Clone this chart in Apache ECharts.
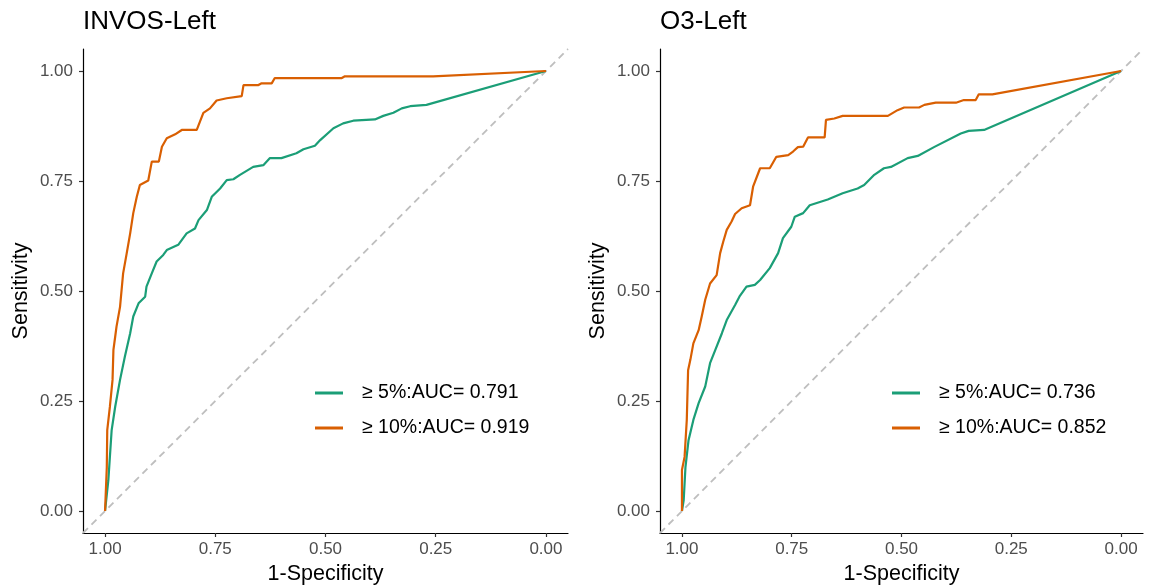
<!DOCTYPE html>
<html>
  <head>
    <meta charset="utf-8" />
    <title>ROC curves</title>
    <script src="https://cdn.jsdelivr.net/npm/echarts@6/dist/echarts.min.js"></script>
    <style>
      body {
        margin: 0;
        background: #fff;
      }
      #main {
        width: 1152px;
        height: 585px;
      }
    </style>
  </head>
  <body>
    <div id="main"></div>
    <script type="text/javascript">
      // [specificity, sensitivity] points
      var invos5 = [
        [1, 0], [0.9925, 0.07], [0.985, 0.184], [0.977, 0.237], [0.966, 0.298],
        [0.955, 0.351], [0.943, 0.404], [0.936, 0.442], [0.924, 0.472], [0.909, 0.487],
        [0.906, 0.51], [0.894, 0.54], [0.883, 0.567], [0.868, 0.582], [0.86, 0.593],
        [0.834, 0.605], [0.815, 0.631], [0.796, 0.642], [0.788, 0.661], [0.769, 0.684],
        [0.758, 0.714], [0.739, 0.733], [0.724, 0.752], [0.709, 0.754], [0.694, 0.764],
        [0.664, 0.782], [0.641, 0.786], [0.626, 0.802], [0.6, 0.802], [0.566, 0.813],
        [0.55, 0.822], [0.524, 0.83], [0.512, 0.843], [0.482, 0.87], [0.46, 0.881],
        [0.437, 0.887], [0.388, 0.89], [0.369, 0.898], [0.346, 0.905], [0.327, 0.915],
        [0.308, 0.92], [0.271, 0.923], [0, 1]
      ];
      var invos10 = [
        [1, 0], [0.996, 0.1], [0.995, 0.184], [0.989, 0.237], [0.983, 0.298],
        [0.981, 0.366], [0.977, 0.396], [0.974, 0.419], [0.966, 0.464], [0.959, 0.54],
        [0.951, 0.585], [0.943, 0.631], [0.936, 0.677], [0.928, 0.714], [0.921, 0.741],
        [0.902, 0.751], [0.894, 0.794], [0.878, 0.794], [0.871, 0.828], [0.86, 0.847],
        [0.841, 0.856], [0.826, 0.866], [0.792, 0.866], [0.777, 0.905], [0.762, 0.915],
        [0.747, 0.933], [0.724, 0.938], [0.69, 0.943], [0.686, 0.968], [0.652, 0.968],
        [0.645, 0.972], [0.622, 0.972], [0.615, 0.984], [0.463, 0.984], [0.456, 0.988],
        [0.256, 0.988], [0, 1]
      ];
      var o3_5 = [
        [1, 0], [0.996, 0.025], [0.992, 0.1], [0.985, 0.161], [0.974, 0.207],
        [0.962, 0.245], [0.947, 0.283], [0.936, 0.336], [0.924, 0.366], [0.909, 0.404],
        [0.898, 0.434], [0.879, 0.468], [0.868, 0.489], [0.853, 0.51], [0.834, 0.514],
        [0.822, 0.525], [0.8, 0.552], [0.781, 0.586], [0.77, 0.62], [0.751, 0.646],
        [0.743, 0.669], [0.724, 0.677], [0.709, 0.695], [0.668, 0.708], [0.634, 0.722],
        [0.6, 0.733], [0.585, 0.741], [0.562, 0.764], [0.54, 0.779], [0.524, 0.782],
        [0.486, 0.802], [0.463, 0.807], [0.426, 0.827], [0.365, 0.858], [0.347, 0.864],
        [0.312, 0.866], [0, 1]
      ];
      var o3_10 = [
        [1, 0], [1, 0.093], [0.994, 0.123], [0.989, 0.207], [0.986, 0.32],
        [0.981, 0.343], [0.974, 0.381], [0.962, 0.411], [0.955, 0.442], [0.947, 0.48],
        [0.936, 0.517], [0.921, 0.536], [0.913, 0.586], [0.906, 0.612], [0.898, 0.639],
        [0.887, 0.658], [0.879, 0.675], [0.864, 0.688], [0.845, 0.695], [0.838, 0.737],
        [0.822, 0.779], [0.8, 0.779], [0.785, 0.805], [0.758, 0.809], [0.747, 0.817],
        [0.736, 0.827], [0.724, 0.828], [0.713, 0.849], [0.675, 0.849], [0.672, 0.889],
        [0.653, 0.892], [0.634, 0.898], [0.531, 0.898], [0.509, 0.911], [0.494, 0.917],
        [0.46, 0.917], [0.448, 0.923], [0.422, 0.928], [0.376, 0.928], [0.358, 0.934],
        [0.331, 0.934], [0.324, 0.947], [0.293, 0.947], [0, 1]
      ];
      var diagonal = [[1.05, -0.05], [-0.05, 1.05]];
      var tickValues = [0, 0.25, 0.5, 0.75, 1];
      var panelTitles = ["INVOS-Left", "O3-Left"];
      var leftNames = ["≥ 5%:AUC= 0.791", "≥ 10%:AUC= 0.919"];
      var rightNames = ["≥ 5%:AUC= 0.736", "≥ 10%:AUC= 0.852"];

      var green = "#1b9e77";
      var orange = "#d95f02";
      var font = "Liberation Sans, Arial, sans-serif";

      var myChart = echarts.init(document.getElementById("main"));

      function makeX(i) {
        return {
          type: "value",
          gridIndex: i,
          min: -0.05,
          max: 1.05,
          inverse: true,
          name: "1-Specificity",
          nameLocation: "middle",
          nameGap: 30,
          nameTextStyle: { color: "#000", fontSize: 21.5, fontFamily: font },
          splitLine: { show: false },
          axisLine: { onZero: false, lineStyle: { color: "#000", width: 1.2 } },
          axisTick: { customValues: tickValues, length: 4, lineStyle: { color: "#333", width: 1.2 } },
          axisLabel: {
            customValues: tickValues,
            margin: 8,
            color: "#4d4d4d",
            fontSize: 17,
            fontFamily: font,
            formatter: function (v) { return v.toFixed(2); }
          }
        };
      }
      function makeY(i) {
        return {
          type: "value",
          gridIndex: i,
          min: -0.05,
          max: 1.05,
          name: "Sensitivity",
          nameLocation: "middle",
          nameGap: 51,
          nameTextStyle: { color: "#000", fontSize: 21.5, fontFamily: font },
          splitLine: { show: false },
          axisLine: { show: true, onZero: false, lineStyle: { color: "#000", width: 1.2 } },
          axisTick: { show: true, customValues: tickValues, length: 4, lineStyle: { color: "#333", width: 1.2 } },
          axisLabel: {
            customValues: tickValues,
            margin: 10,
            color: "#4d4d4d",
            fontSize: 17,
            fontFamily: font,
            formatter: function (v) { return v.toFixed(2); }
          }
        };
      }
      function curve(name, data, color, i) {
        return {
          type: "line",
          name: name,
          data: data,
          xAxisIndex: i,
          yAxisIndex: i,
          showSymbol: false,
          color: color,
          lineStyle: { color: color, width: 2.2 },
          z: 3
        };
      }
      function diag(i) {
        return {
          type: "line",
          data: diagonal,
          xAxisIndex: i,
          yAxisIndex: i,
          showSymbol: false,
          silent: true,
          lineStyle: { color: "#bebebe", width: 1.8, type: [7, 5] },
          z: 1
        };
      }
      function makeLegend(names, left) {
        return {
          data: names,
          orient: "vertical",
          left: left,
          top: 378,
          itemWidth: 28,
          itemHeight: 3,
          itemGap: 15,
          icon: "rect",
          textStyle: { color: "#000", fontSize: 19.5, fontFamily: font, lineHeight: 20, padding: [0, 0, 0, 14] }
        };
      }

      var option = {
        animation: false,
        backgroundColor: "#fff",
        title: [
          { text: panelTitles[0], left: 78, top: 4, textStyle: { color: "#000", fontSize: 26, fontWeight: "normal", fontFamily: font } },
          { text: panelTitles[1], left: 655, top: 4, textStyle: { color: "#000", fontSize: 26, fontWeight: "normal", fontFamily: font } }
        ],
        legend: [makeLegend(leftNames, 310), makeLegend(rightNames, 887)],
        grid: [
          { left: 83, top: 49, width: 485, height: 484, outerBoundsMode: "none", containLabel: false },
          { left: 660, top: 49, width: 483, height: 484, outerBoundsMode: "none", containLabel: false }
        ],
        xAxis: [makeX(0), makeX(1)],
        yAxis: [makeY(0), makeY(1)],
        series: [
          diag(0),
          curve(leftNames[0], invos5, green, 0),
          curve(leftNames[1], invos10, orange, 0),
          diag(1),
          curve(rightNames[0], o3_5, green, 1),
          curve(rightNames[1], o3_10, orange, 1)
        ]
      };

      myChart.setOption(option);
    </script>
  </body>
</html>
